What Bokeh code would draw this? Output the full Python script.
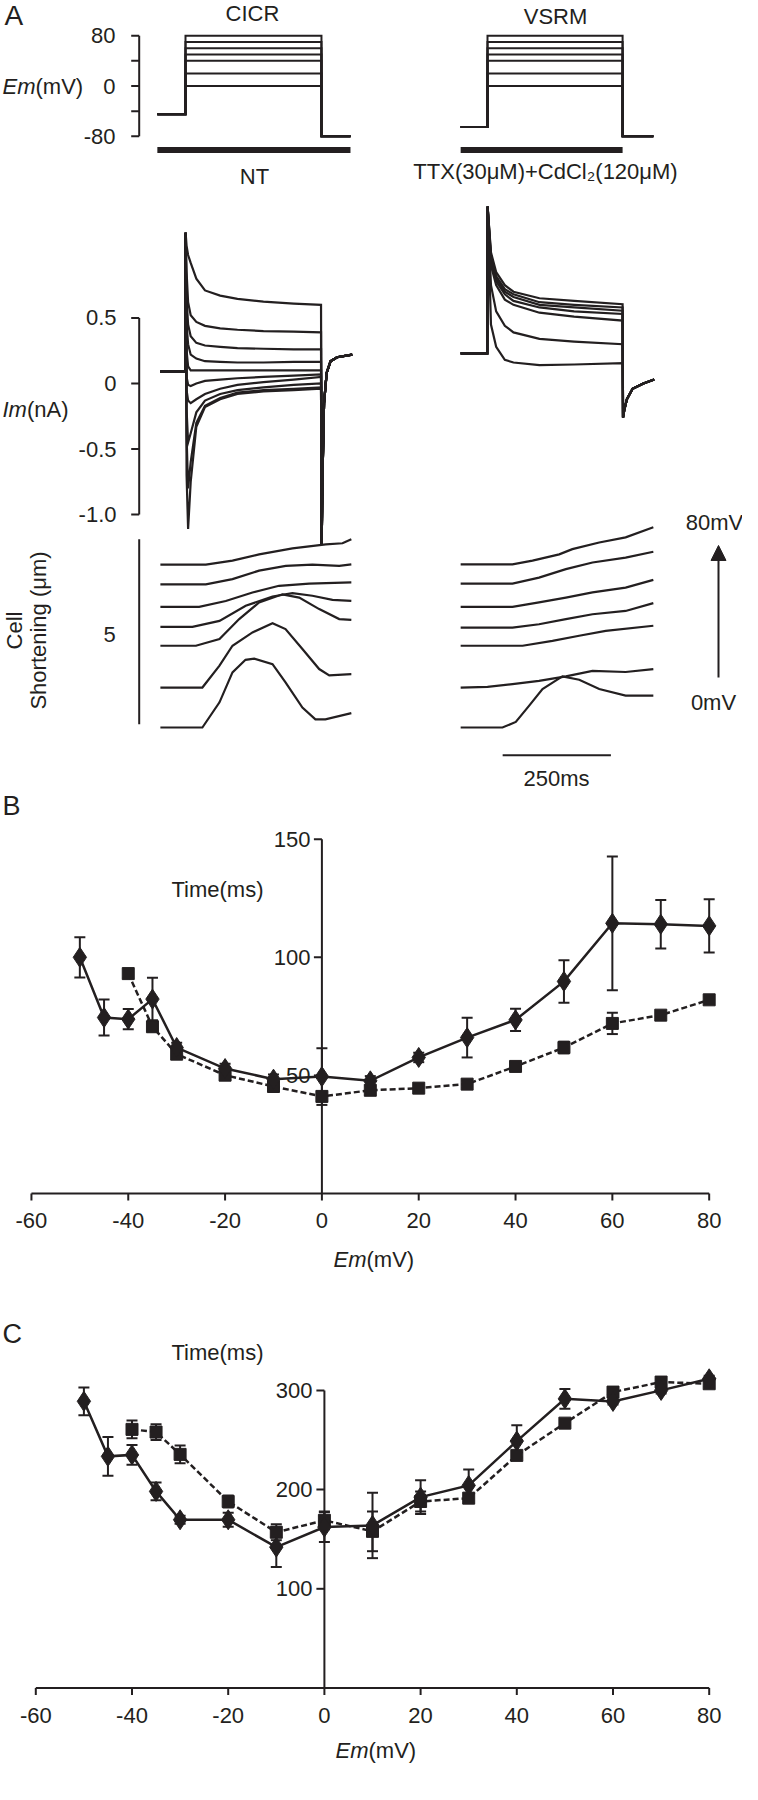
import math
from bokeh.plotting import figure
from bokeh.models import Range1d, Whisker, TeeHead, ColumnDataSource, Arrow, NormalHead
from bokeh.layouts import column
from bokeh.embed import file_html
from bokeh.resources import INLINE
from bokeh.core.properties import value

INK = "#231f20"
FONT = value("Liberation Sans")

# ======================= DATA =======================
# ---- Panel A : voltage protocol ----
step_levels_mv = [0, 20, 40, 50, 60, 70, 80]
cicr_hold_mv = -45
vsrm_hold_mv = -65
post_mv = -80
cicr_protocol_ms = [-65, 0, 314, 381]
vsrm_protocol_ms = [-62, 0, 312, 383]
volt_ticks = [80, 40, 0, -40, -80]
volt_label_ticks = [80, 0, -80]
volt_tick_labels = ["80", "0", "-80"]

# ---- Panel A : membrane current (nA) ----
cur_ticks = [0.5, 0.0, -0.5, -1.0]
cur_tick_labels = ["0.5", "0", "-0.5", "-1.0"]
cicr_im_t = [-58, -0.5, 0.3, 2.5, 6, 12, 25, 45, 80, 120, 180, 250, 313,
             314.5, 316.5, 320, 326, 335, 350, 385]
cicr_im_head = [0.09, 0.09, 1.15]
cicr_im_tail = [-1.23, -0.7, -0.15, 0.08, 0.17, 0.2, 0.22]
cicr_im_a = [1.05, 0.98, 0.92, 0.80, 0.71, 0.67, 0.645, 0.625, 0.61, 0.60]
cicr_im_b = [0.85, 0.62, 0.52, 0.47, 0.44, 0.42, 0.41, 0.40, 0.395, 0.39]
cicr_im_c = [0.65, 0.45, 0.36, 0.31, 0.29, 0.28, 0.27, 0.265, 0.26, 0.26]
cicr_im_d = [0.45, 0.30, 0.22, 0.19, 0.17, 0.165, 0.16, 0.16, 0.165, 0.165]
cicr_im_e = [0.25, 0.13, 0.10, 0.10, 0.10, 0.10, 0.10, 0.10, 0.10, 0.10]
cicr_im_f = [0.05, -0.01, -0.02, 0.00, 0.02, 0.03, 0.04, 0.05, 0.06, 0.07]
cicr_im_g = [-0.05, -0.13, -0.15, -0.12, -0.08, -0.04, -0.01, 0.01, 0.03, 0.05]
cicr_im_h = [-0.2, -0.45, -0.38, -0.22, -0.13, -0.08, -0.05, -0.03, -0.01, 0.0]
cicr_im_i = [-0.4, -0.8, -0.6, -0.3, -0.17, -0.11, -0.07, -0.05, -0.04, -0.03]
cicr_im_j = [-0.7, -1.11, -0.75, -0.33, -0.18, -0.12, -0.08, -0.06, -0.05, -0.04]

vsrm_im_t = [-62, -0.5, 0.3, 8, 20, 40, 60, 120, 200, 312, 313, 316, 322, 335, 360, 385]
vsrm_im_head = [0.23, 0.23, 1.35]
vsrm_im_tail = [-0.26, -0.2, -0.12, -0.04, 0.0, 0.03]
vsrm_im_80 = [1.00, 0.85, 0.75, 0.70, 0.65, 0.63, 0.605]
vsrm_im_70 = [0.98, 0.82, 0.72, 0.68, 0.62, 0.60, 0.58]
vsrm_im_60 = [0.95, 0.80, 0.70, 0.66, 0.60, 0.58, 0.555]
vsrm_im_50 = [0.93, 0.78, 0.68, 0.63, 0.58, 0.55, 0.53]
vsrm_im_40 = [0.90, 0.75, 0.64, 0.60, 0.54, 0.51, 0.48]
vsrm_im_20 = [0.75, 0.55, 0.44, 0.39, 0.34, 0.32, 0.30]
vsrm_im_0 = [0.45, 0.28, 0.18, 0.16, 0.14, 0.145, 0.155]

# ---- Panel A : cell shortening (um, traces stacked 0 mV bottom -> 80 mV top) ----
cs_0_t = [-58, 39, 78.5, 108.5, 138.6, 158.7, 201, 231, 270, 300, 323, 383]
cs_0_v = [0, 0, 0.68, 1.49, 1.83, 1.86, 1.71, 1.22, 0.54, 0.22, 0.22, 0.39]
cs_20_t = [-58, 39, 78.5, 108.5, 154.7, 201, 231, 270, 308.7, 332, 383]
cs_20_v = [1.08, 1.08, 1.67, 2.21, 2.57, 2.82, 2.66, 2.12, 1.58, 1.41, 1.44]
cs_40_t = [-58, 24, 78.5, 124, 170, 224, 262.6, 308.8, 355, 383]
cs_40_v = [2.21, 2.21, 2.39, 2.93, 3.38, 3.60, 3.51, 3.20, 2.93, 2.91]
cs_50_t = [-58, 16, 78.5, 139, 201, 247, 293, 339.5, 383]
cs_50_v = [2.72, 2.72, 2.88, 3.29, 3.54, 3.63, 3.56, 3.45, 3.42]
cs_60_t = [-58, 31.6, 93, 154.7, 216, 285.7, 383]
cs_60_v = [3.26, 3.26, 3.42, 3.65, 3.83, 3.89, 3.92]
cs_70_t = [-58, 47, 108.5, 170, 231.6, 293, 355, 383]
cs_70_v = [3.87, 3.87, 4.01, 4.24, 4.37, 4.40, 4.37, 4.41]
cs_80_t = [-58, 47, 108.5, 170, 247, 324, 362.6, 383]
cs_80_v = [4.40, 4.40, 4.51, 4.68, 4.84, 4.95, 4.98, 5.09]

vs_0_t = [-62, 34.6, 65.4, 96.3, 127, 154, 173, 211.8, 258, 319, 383]
vs_0_v = [0, 0, 0.15, 0.59, 1.04, 1.24, 1.38, 1.29, 1.04, 0.86, 0.86]
vs_20_t = [-62, 0, 57.7, 119, 181, 242.5, 319, 383]
vs_20_v = [1.08, 1.10, 1.17, 1.26, 1.38, 1.53, 1.50, 1.58]
vs_40_t = [-62, 81, 150, 211.7, 273, 383]
vs_40_v = [2.21, 2.21, 2.34, 2.48, 2.61, 2.75]
vs_50_t = [-62, 57.7, 119, 181, 242.5, 319, 383]
vs_50_v = [2.70, 2.70, 2.79, 2.93, 3.06, 3.15, 3.36]
vs_60_t = [-62, 57.7, 119, 181, 242.5, 319, 383]
vs_60_v = [3.26, 3.26, 3.38, 3.51, 3.65, 3.78, 3.99]
vs_70_t = [-62, 0, 57.7, 119, 181, 242.5, 319, 383]
vs_70_v = [3.89, 3.89, 3.89, 4.05, 4.28, 4.46, 4.59, 4.75]
vs_80_t = [-62, 57.7, 104, 165.6, 196, 258, 319, 383]
vs_80_v = [4.41, 4.41, 4.51, 4.68, 4.82, 5.00, 5.14, 5.41]

shortening_scale_um = [0.09, 5.09]
time_scale_ms = [35, 285]
arrow_um = [1.35, 4.92]

# ---- Panel B : time (ms) vs Em (mV) ----
em_diamond = [-50, -45, -40, -35, -30, -20, -10, 0, 10, 20, 30, 40, 50, 60, 70, 80]
b_diamond = [100, 74.5, 73.8, 82.3, 61.8, 52.9, 48.4, 49.5, 47.7, 57.6, 66, 73.5, 89.8, 114.4, 114, 113.3]
b_diamond_err = [8.5, 7.6, 4.3, 9, 2, 2, 2, 12, 2, 2, 8.4, 4.7, 9, 28.3, 10.3, 11.3]
em_square = [-40, -35, -30, -20, -10, 0, 10, 20, 30, 40, 50, 60, 70, 80]
b_square = [93.1, 70.6, 59, 50.1, 45.3, 41.1, 43.7, 44.6, 46.3, 53.8, 61.8, 72, 75.5, 82]
b_square_err = [2, 2, 2, 2, 2, 2, 2, 1.5, 1.5, 1.5, 2.5, 4.5, 1.5, 1.5]
em_ticks = [-60, -40, -20, 0, 20, 40, 60, 80]
b_yticks = [50, 100, 150]

# ---- Panel C ----
c_diamond = [289, 233.5, 235, 198.2, 169.6, 169.6, 142, 162.2, 163.9, 192.4, 204.2, 248.9, 291.5, 288.9, 300, 311.7]
c_diamond_err = [14, 19.5, 10, 9, 4, 7, 20, 15, 33, 17, 16, 16, 10, 3, 3, 3]
c_square = [260.7, 258, 235.5, 188, 157, 169, 157.9, 188, 191.4, 234.5, 267, 298.3, 308.4, 306.7]
c_square_err = [9, 8, 9, 6, 8, 9, 20, 10, 5, 3, 3, 3, 3, 3]
c_yticks = [100, 200, 300]

# ======================= LAYOUT HELPERS =======================
W = 742


def lin(origin, scale):
    """page pixel -> data value, data = (page - origin)/scale (scale may be negative)."""
    return lambda px: (px - origin) / scale


def make_fig(top, height, fx, fy):
    p = figure(width=W, height=height,
               x_range=Range1d(fx(8), fx(8 + W)),
               y_range=Range1d(fy(top + height), fy(top)),
               output_backend="svg", toolbar_location=None,
               x_axis_location=None, y_axis_location=None,
               min_border=0, outline_line_color=None)
    p.grid.visible = False
    p.background_fill_color = "white"
    p.border_fill_color = "white"
    return p


def txt(p, x, y, s, size, align="center", baseline="middle", angle=0.0,
        style="normal", xr="default", yr="default"):
    p.text(x=[x], y=[y], text=[s], text_font=FONT, text_font_size=f"{size}px",
           text_align=align, text_baseline=baseline, angle=angle,
           text_font_style=style, text_color=INK,
           x_range_name=xr, y_range_name=yr)


def line(p, xs, ys, lw=2, xr="default", yr="default", dash="solid"):
    p.line(xs, ys, line_width=lw, line_color=INK, line_join="miter",
           x_range_name=xr, y_range_name=yr, line_dash=dash)


# ======================= PANEL A =======================
A_TOP, A_H = 8, 792
tx_l = lin(193, 0.433)          # CICR time axis
tx_r = lin(495, 0.433)          # VSRM time axis
vy = lin(93.5, -0.629)          # mV
iy = lin(391, -131.1)           # nA
sy = lin(735, -37.0)            # um

pA = make_fig(A_TOP, A_H, tx_l, vy)
pA.extra_x_ranges = {"vs": Range1d(tx_r(8), tx_r(8 + W))}
pA.extra_y_ranges = {"cur": Range1d(iy(A_TOP + A_H), iy(A_TOP)),
                     "sh": Range1d(sy(A_TOP + A_H), sy(A_TOP))}

# voltage protocols
for lvl in step_levels_mv:
    t0, ts, te, tend = cicr_protocol_ms
    line(pA, [t0, ts, ts, te, te, tend], [cicr_hold_mv, cicr_hold_mv, lvl, lvl, post_mv, post_mv])
    t0, ts, te, tend = vsrm_protocol_ms
    line(pA, [t0, ts, ts, te, te, tend], [vsrm_hold_mv, vsrm_hold_mv, lvl, lvl, post_mv, post_mv], xr="vs")

bar_mv = vy(157.5)
line(pA, [cicr_protocol_ms[0], cicr_protocol_ms[3]], [bar_mv, bar_mv], lw=6)
line(pA, [vsrm_protocol_ms[0], vsrm_protocol_ms[2]], [bar_mv, bar_mv], lw=6, xr="vs")

# voltage axis
ax_t = tx_l(146.7)
tick_dt = 8 / 0.433
line(pA, [ax_t, ax_t], [volt_ticks[0], volt_ticks[-1]])
pA.segment(x0=[ax_t] * len(volt_ticks), y0=volt_ticks, x1=[ax_t - tick_dt] * len(volt_ticks),
           y1=volt_ticks, line_width=2, line_color=INK)
pA.text(x=[tx_l(123)] * len(volt_label_ticks), y=volt_label_ticks, text=volt_tick_labels,
        text_font=FONT, text_font_size="22px", text_align="right", text_baseline="middle",
        text_color=INK)
txt(pA, tx_l(10), vy(93.5), "Em", 22, align="left", style="italic")
txt(pA, tx_l(43), vy(93.5), "(mV)", 22, align="left")

txt(pA, tx_l(12), vy(23), "A", 28, align="left")
txt(pA, tx_l(260), vy(21), "CICR", 22)
txt(pA, tx_r(563), vy(23.5), "VSRM", 22, xr="vs")
txt(pA, tx_l(262), vy(183.5), "NT", 22)
txt(pA, tx_r(553), vy(179), "TTX(30\u03bcM)+CdCl\u2082(120\u03bcM)", 22, xr="vs")

# current traces
for tr in [cicr_im_a, cicr_im_b, cicr_im_c, cicr_im_d, cicr_im_e,
           cicr_im_f, cicr_im_g, cicr_im_h, cicr_im_i, cicr_im_j]:
    line(pA, cicr_im_t, cicr_im_head + tr + cicr_im_tail, lw=2.2, yr="cur")
for tr in [vsrm_im_80, vsrm_im_70, vsrm_im_60, vsrm_im_50, vsrm_im_40, vsrm_im_20, vsrm_im_0]:
    line(pA, vsrm_im_t, vsrm_im_head + tr + vsrm_im_tail, lw=2.2, xr="vs", yr="cur")

line(pA, [ax_t, ax_t], [cur_ticks[0], cur_ticks[-1]], yr="cur")
pA.segment(x0=[ax_t] * len(cur_ticks), y0=cur_ticks, x1=[ax_t - tick_dt] * len(cur_ticks),
           y1=cur_ticks, line_width=2, line_color=INK, y_range_name="cur")
pA.text(x=[tx_l(124)] * len(cur_ticks), y=cur_ticks, text=cur_tick_labels, text_font=FONT,
        text_font_size="22px", text_align="right", text_baseline="middle", text_color=INK,
        y_range_name="cur")
txt(pA, tx_l(10), iy(417), "Im", 22, align="left", style="italic", yr="cur")
txt(pA, tx_l(34.5), iy(417), "(nA)", 22, align="left", yr="cur")

# shortening traces
for t, v in [(cs_0_t, cs_0_v), (cs_20_t, cs_20_v), (cs_40_t, cs_40_v), (cs_50_t, cs_50_v),
             (cs_60_t, cs_60_v), (cs_70_t, cs_70_v), (cs_80_t, cs_80_v)]:
    line(pA, t, v, lw=2.2, yr="sh")
for t, v in [(vs_0_t, vs_0_v), (vs_20_t, vs_20_v), (vs_40_t, vs_40_v), (vs_50_t, vs_50_v),
             (vs_60_t, vs_60_v), (vs_70_t, vs_70_v), (vs_80_t, vs_80_v)]:
    line(pA, t, v, lw=2.2, xr="vs", yr="sh")

line(pA, [ax_t, ax_t], shortening_scale_um, yr="sh")
txt(pA, tx_l(117), sy(641.7), "5", 22, yr="sh")
txt(pA, tx_l(22), sy(638), "Cell", 22, angle=math.pi / 2, yr="sh")
txt(pA, tx_l(46), sy(638), "Shortening (\u03bcm)", 22, angle=math.pi / 2, yr="sh")

# time scale bar + arrow
scale_um = sy(762.7)
line(pA, time_scale_ms, [scale_um, scale_um], xr="vs", yr="sh")
txt(pA, tx_r(564), sy(786), "250ms", 22, xr="vs", yr="sh")
arrow_t = tx_r(726)
pA.add_layout(Arrow(end=NormalHead(size=15, fill_color=INK, line_color=INK, line_width=1),
                    x_start=arrow_t, y_start=arrow_um[0], x_end=arrow_t, y_end=arrow_um[1],
                    line_width=2, line_color=INK, x_range_name="vs", y_range_name="sh"))
txt(pA, tx_r(722), sy(530), "80mV", 22, xr="vs", yr="sh")
txt(pA, tx_r(721), sy(710), "0mV", 22, xr="vs", yr="sh")


# ======================= PANELS B / C =======================
def xy_panel(top, height, x0, xs, y0, ys, d_vals, d_err, s_vals, s_err, yticks,
             letter_y, time_xy, em_y, tick_label_y, ytick_label_px):
    fx = lin(x0, xs)
    fy = lin(y0, -ys)
    p = make_fig(top, height, fx, fy)
    # axes
    xt_len = 7 / ys
    yt_len = 8 / xs
    line(p, [em_ticks[0], em_ticks[-1]], [0, 0])
    p.segment(x0=em_ticks, y0=[0] * len(em_ticks), x1=em_ticks, y1=[-xt_len] * len(em_ticks),
              line_width=2, line_color=INK)
    line(p, [0, 0], [0, yticks[-1]])
    p.segment(x0=[0] * len(yticks), y0=yticks, x1=[-yt_len] * len(yticks), y1=yticks,
              line_width=2, line_color=INK)
    p.text(x=em_ticks, y=[fy(tick_label_y)] * len(em_ticks), text=[str(v) for v in em_ticks],
           text_font=FONT, text_font_size="22px", text_align="center", text_baseline="middle",
           text_color=INK)
    p.text(x=[fx(ytick_label_px)] * len(yticks), y=yticks, text=[str(v) for v in yticks],
           text_font=FONT, text_font_size="22px", text_align="right", text_baseline="middle",
           text_color=INK)
    txt(p, fx(time_xy[0]), fy(time_xy[1]), "Time(ms)", 22)
    txt(p, fx(em_y[0]), fy(em_y[1]), "Em", 22, align="left", style="italic")
    txt(p, fx(em_y[0] + 33), fy(em_y[1]), "(mV)", 22, align="left")
    txt(p, fx(10), fy(letter_y[1]), letter_y[0], 27, align="left")

    # data
    line(p, em_square, s_vals, lw=2.5, dash="6 3")
    line(p, em_diamond, d_vals, lw=2.5)
    for xv, yv, ev in [(em_diamond, d_vals, d_err), (em_square, s_vals, s_err)]:
        src = ColumnDataSource(dict(x=xv, upper=[a + b for a, b in zip(yv, ev)],
                                    lower=[a - b for a, b in zip(yv, ev)]))
        p.add_layout(Whisker(source=src, base="x", upper="upper", lower="lower",
                             dimension="height", line_width=2, line_color=INK, level="underlay",
                             upper_head=TeeHead(size=11, line_width=2, line_color=INK),
                             lower_head=TeeHead(size=11, line_width=2, line_color=INK)))
    p.scatter(em_square, s_vals, marker="square", size=12, fill_color=INK, line_color=INK)
    p.scatter(em_diamond, d_vals, marker="diamond", size=20, fill_color=INK, line_color=INK)
    return p


pB = xy_panel(800, 483, 329.4, 4.841, 1201, 2.362, b_diamond, b_diamond_err, b_square,
              b_square_err, b_yticks, ("B", 813), (225, 897), (341, 1267), 1228, 318)
pC = xy_panel(1283, 509, 331.9, 4.81, 1695.5, 0.992, c_diamond, c_diamond_err, c_square,
              c_square_err, c_yticks, ("C", 1341), (225, 1360), (343, 1758), 1723, 320)

layout = column(pA, pB, pC, spacing=0)
open("out.html", "w").write(file_html(layout, INLINE))
